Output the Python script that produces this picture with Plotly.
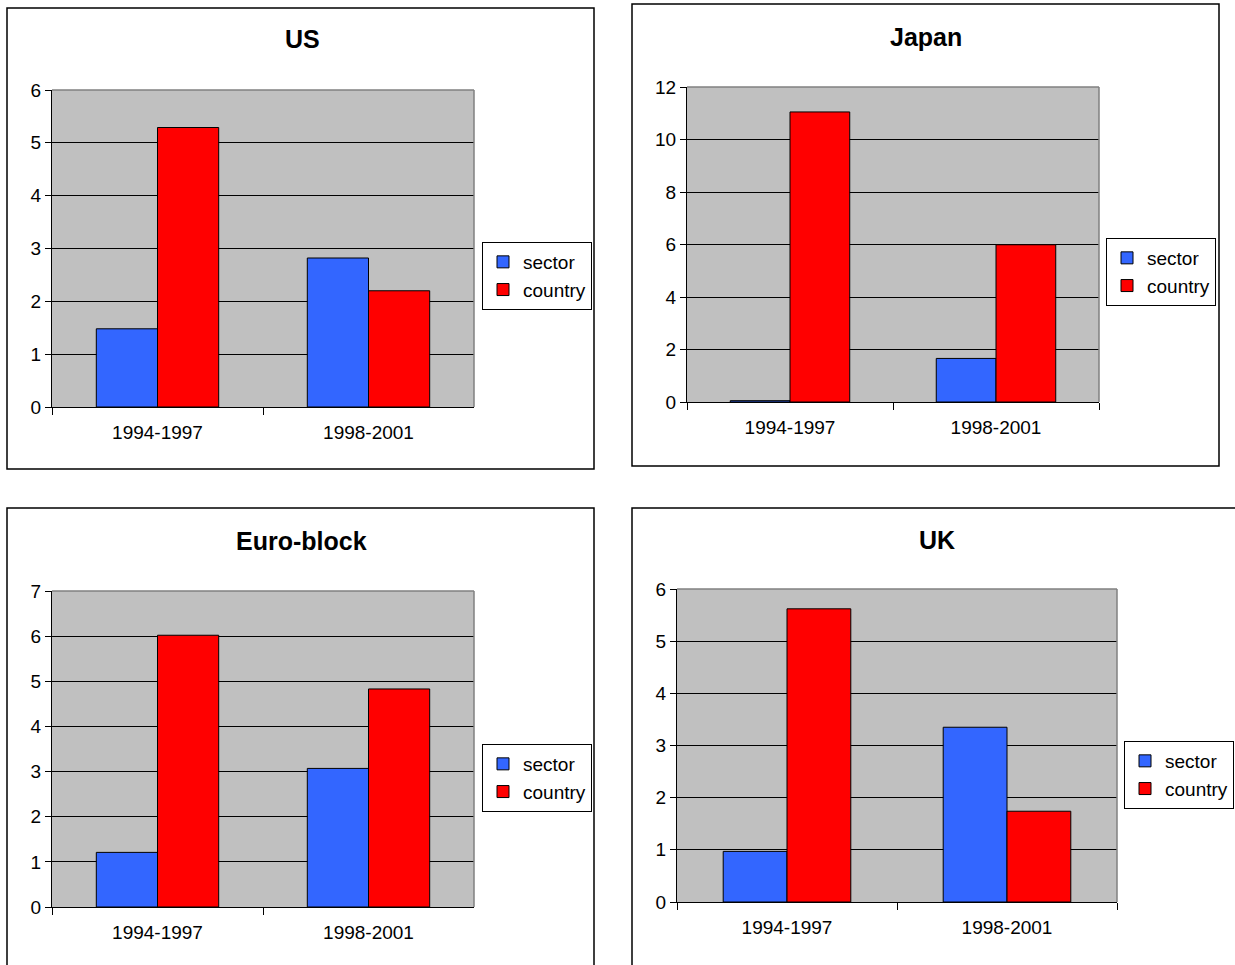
import plotly.graph_objects as go

W, H = 1235, 965

periods = ["1994-1997", "1998-2001"]
series_names = ["sector", "country"]

us_sector = [1.48, 2.82]
us_country = [5.29, 2.20]
japan_sector = [0.05, 1.66]
japan_country = [11.05, 5.99]
euro_sector = [1.21, 3.07]
euro_country = [6.02, 4.83]
uk_sector = [0.97, 3.35]
uk_country = [5.62, 1.74]

titles = ["US", "Japan", "Euro-block", "UK"]
y_ranges = [(0, 6), (0, 12), (0, 7), (0, 6)]
y_dticks = [1, 2, 1, 1]

SECTOR_COLOR = "#3366FF"
COUNTRY_COLOR = "#FF0000"
FONT = "Arial, Liberation Sans, sans-serif"


def px_x(v):
    return v / W


def px_y(v):
    return 1 - v / H


# layout geometry in pixels: plot area (x0, x1, ytop, ybottom), outer box, title centre,
# legend anchor point and horizontal anchor
panels = [
    dict(plot=(52, 474, 90, 407), box=(7, 594, 8, 469), title=(302, 39), legend=(482, 242, "left")),
    dict(plot=(687, 1099, 87, 402), box=(632, 1219, 4, 466), title=(926, 37), legend=(1106, 238, "left")),
    dict(plot=(52, 474, 591, 907), box=(7, 594, 508, 990), title=(301, 541), legend=(482, 744, "left")),
    dict(plot=(677, 1117, 589, 902), box=(632, 1260, 508, 990), title=(937, 540), legend=(1234, 741, "right")),
]

data = [
    (us_sector, us_country),
    (japan_sector, japan_country),
    (euro_sector, euro_country),
    (uk_sector, uk_country),
]

fig = go.Figure()
layout = dict(
    width=W, height=H,
    margin=dict(l=0, r=0, t=0, b=0, autoexpand=False),
    paper_bgcolor="white",
    plot_bgcolor="#C0C0C0",
    barmode="group",
    bargap=0.42,
    bargroupgap=0,
    font=dict(family=FONT, color="black", size=19),
    shapes=[],
    annotations=[],
)

for i, (p, (sec, cty)) in enumerate(zip(panels, data)):
    n = "" if i == 0 else str(i + 1)
    xa, ya = "x" + n, "y" + n
    leg = "legend" + n
    fig.add_trace(go.Bar(x=periods, y=sec, name=series_names[0], xaxis=xa, yaxis=ya,
                         marker=dict(color=SECTOR_COLOR, line=dict(color="black", width=1)),
                         legend=leg, showlegend=True))
    fig.add_trace(go.Bar(x=periods, y=cty, name=series_names[1], xaxis=xa, yaxis=ya,
                         marker=dict(color=COUNTRY_COLOR, line=dict(color="black", width=1)),
                         legend=leg, showlegend=True))
    x0, x1, yt, yb = p["plot"]
    layout["xaxis" + n] = dict(
        domain=[px_x(x0), px_x(x1)], anchor=ya, type="category",
        showline=True, linecolor="black", linewidth=1,
        ticks="outside", tickson="boundaries", ticklen=7, tickcolor="black",
        ticklabelstandoff=8,
        showgrid=False, tickfont=dict(size=19, family=FONT), fixedrange=True,
    )
    layout["yaxis" + n] = dict(
        domain=[px_y(yb), px_y(yt)], anchor=xa,
        range=list(y_ranges[i]), dtick=y_dticks[i], tick0=0,
        showline=True, linecolor="black", linewidth=1,
        ticks="outside", ticklen=6, tickcolor="black",
        showgrid=True, gridcolor="black", gridwidth=1,
        zeroline=False, tickfont=dict(size=19, family=FONT), fixedrange=True,
    )
    lx, ly, lanchor = p["legend"]
    layout[leg] = dict(
        x=px_x(lx), y=px_y(ly), xanchor=lanchor, yanchor="top",
        xref="paper", yref="paper",
        bgcolor="white", bordercolor="black", borderwidth=1,
        font=dict(size=19, family=FONT), itemwidth=30,
        tracegroupgap=0,
    )
    bx0, bx1, by0, by1 = p["box"]
    layout["shapes"].append(dict(type="rect", xref="paper", yref="paper",
                                 x0=px_x(bx0), x1=px_x(bx1), y0=px_y(by1), y1=px_y(by0),
                                 line=dict(color="black", width=1.5), layer="below"))
    # grey top and right plot frame
    layout["shapes"].append(dict(type="line", xref="paper", yref="paper",
                                 x0=px_x(x0), x1=px_x(x1), y0=px_y(yt), y1=px_y(yt),
                                 line=dict(color="#808080", width=1.5)))
    layout["shapes"].append(dict(type="line", xref="paper", yref="paper",
                                 x0=px_x(x1), x1=px_x(x1), y0=px_y(yb), y1=px_y(yt),
                                 line=dict(color="#808080", width=1.5)))
    tx, ty = p["title"]
    layout["annotations"].append(dict(
        text="<b>" + titles[i] + "</b>", x=px_x(tx), y=px_y(ty), xref="paper", yref="paper",
        showarrow=False, xanchor="center", yanchor="middle",
        font=dict(size=25, family=FONT, color="black"),
    ))

fig.update_layout(**layout)
fig.write_html("out.html")
